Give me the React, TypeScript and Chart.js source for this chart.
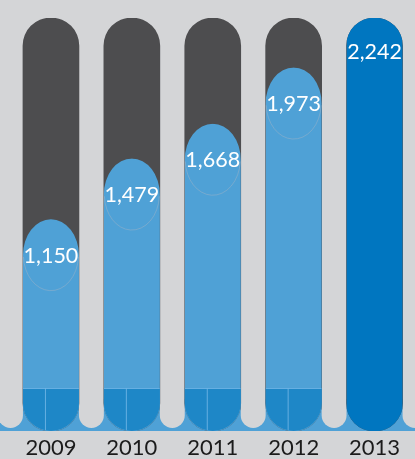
import React, { useEffect, useRef } from 'react';
import { Chart, registerables } from 'chart.js';

Chart.register(...registerables);

// ---- data ----
const years = ['2009', '2010', '2011', '2012', '2013'];
const values = [1150, 1479, 1668, 1973, 2242];
const trackValues = [2242, 2242, 2242, 2242, 2242];
const valueLabels = ['1,150', '1,479', '1,668', '1,973', '2,242'];
const highlightIndex = 4;

// ---- styles ----
const BG = '#d4d5d7';
const TRACK = '#4d4d4f';
const LIGHT = '#4fa1d6';
const DEEP = '#1e87c7';
const HIGHLIGHT = '#0076c0';
const BAR_W = 56;
const ELLIPSE_RY = 36;
const BASE_SEG_PX = 43;
const RADIUS = 28;

const barColors = values.map((_, i) => (i === highlightIndex ? HIGHLIGHT : LIGHT));

const decorPlugin = {
  id: 'decor',
  beforeDraw(chart: any) {
    const { ctx, width, height } = chart;
    ctx.save();
    ctx.fillStyle = BG;
    ctx.fillRect(0, 0, width, height);
    ctx.restore();
  },
  beforeDatasetsDraw(chart: any) {
    const ctx = chart.ctx;
    const yS = chart.scales.y;
    const xS = chart.scales.x;
    const base = yS.getPixelForValue(0);
    const bars = chart.getDatasetMeta(1).data;
    const w = bars[0].width;
    const step = xS.getPixelForValue(1) - xS.getPixelForValue(0);
    const gap = step - w;
    ctx.save();
    ctx.fillStyle = LIGHT;
    ctx.fillRect(0, base - 32, chart.width, 32);
    ctx.fillStyle = BG;
    for (let i = 0; i <= bars.length; i++) {
      const left = i === 0 ? bars[0].x - w / 2 - gap : bars[i - 1].x + w / 2;
      ctx.beginPath();
      ctx.roundRect(left, base - 60, gap, 60 - 3, [0, 0, gap / 2, gap / 2]);
      ctx.fill();
    }
    ctx.restore();
  },
  beforeDatasetDraw(chart: any, args: any) {
    if (args.index !== 1) return;
    const ctx = chart.ctx;
    const base = chart.scales.y.getPixelForValue(0);
    const bars = chart.getDatasetMeta(1).data;
    ctx.save();
    ctx.beginPath();
    bars.forEach((b: any, i: number) => {
      const w = b.width;
      if (i === highlightIndex) {
        ctx.rect(b.x - w / 2, b.y - 2, w, base - b.y + 4);
      } else {
        ctx.ellipse(b.x, b.y + ELLIPSE_RY, w / 2, ELLIPSE_RY, 0, 0, Math.PI * 2);
        ctx.rect(b.x - w / 2, b.y + ELLIPSE_RY, w, base - b.y - ELLIPSE_RY + 2);
      }
    });
    ctx.clip();
  },
  afterDatasetDraw(chart: any, args: any) {
    if (args.index !== 1) return;
    const ctx = chart.ctx;
    ctx.restore();
    const base = chart.scales.y.getPixelForValue(0);
    const bars = chart.getDatasetMeta(1).data;
    bars.forEach((b: any, i: number) => {
      if (i === highlightIndex) return;
      const w = b.width;
      const left = b.x - w / 2;
      // ellipse outline (lower half only)
      ctx.save();
      ctx.beginPath();
      ctx.ellipse(b.x, b.y + ELLIPSE_RY, w / 2 - 0.5, ELLIPSE_RY - 0.5, 0, 0.05, Math.PI - 0.05);
      ctx.strokeStyle = 'rgba(160,180,198,0.6)';
      ctx.lineWidth = 0.8;
      ctx.stroke();
      ctx.restore();
      // deep blue base segment
      ctx.save();
      ctx.beginPath();
      ctx.roundRect(left, base - BASE_SEG_PX, w, BASE_SEG_PX, [0, 0, RADIUS, RADIUS]);
      ctx.fillStyle = DEEP;
      ctx.fill();
      ctx.clip();
      ctx.strokeStyle = 'rgba(110,180,228,0.9)';
      ctx.lineWidth = 1;
      ctx.beginPath();
      ctx.moveTo(left, base - BASE_SEG_PX + 0.5);
      ctx.lineTo(left + w, base - BASE_SEG_PX + 0.5);
      ctx.moveTo(left + 22.5, base - BASE_SEG_PX);
      ctx.lineTo(left + 22.5, base);
      ctx.stroke();
      ctx.restore();
    });
  },
  afterDatasetsDraw(chart: any) {
    const ctx = chart.ctx;
    const bars = chart.getDatasetMeta(1).data;
    ctx.save();
    ctx.fillStyle = '#ffffff';
    ctx.font = '400 21.5px Lato';
    ctx.textAlign = 'center';
    ctx.textBaseline = 'alphabetic';
    bars.forEach((b: any, i: number) => {
      const cy = b.y + (i === highlightIndex ? 33 : ELLIPSE_RY);
      ctx.fillText(valueLabels[i], b.x, cy + 7.7);
    });
    ctx.restore();
  },
};

export default function App() {
  const ref = useRef<HTMLCanvasElement>(null);
  useEffect(() => {
    document.body.style.margin = '0';
    const chart = new Chart(ref.current as HTMLCanvasElement, {
      type: 'bar',
      data: {
        labels: years,
        datasets: [
          {
            label: 'track',
            data: trackValues,
            backgroundColor: TRACK,
            borderRadius: RADIUS,
            borderSkipped: false,
            grouped: false,
            barThickness: BAR_W,
            order: 2,
          },
          {
            label: 'value',
            data: values,
            backgroundColor: barColors,
            borderRadius: RADIUS,
            borderSkipped: false,
            grouped: false,
            barThickness: BAR_W,
            order: 1,
          },
        ],
      } as any,
      options: {
        responsive: false,
        animation: false,
        events: [],
        layout: { padding: { left: 10.5, right: 0, top: 18, bottom: 0 } },
        plugins: { legend: { display: false }, tooltip: { enabled: false } },
        scales: {
          x: {
            offset: true,
            grid: { display: false, drawTicks: false },
            border: { display: false },
            ticks: {
              color: '#1b1b1b',
              font: { family: 'Lato', size: 22 },
              padding: 4,
              maxRotation: 0,
              autoSkip: false,
            },
            afterFit: (scale: any) => {
              scale.height = 28;
            },
          },
          y: { display: false, min: 0, max: 2242 },
        },
      } as any,
      plugins: [decorPlugin],
    });
    return () => chart.destroy();
  }, []);
  return (
    <div style={{ position: 'absolute', left: 0, top: 0, width: 415, height: 459 }}>
      <canvas ref={ref} width={415} height={459} style={{ display: 'block' }} />
    </div>
  );
}
